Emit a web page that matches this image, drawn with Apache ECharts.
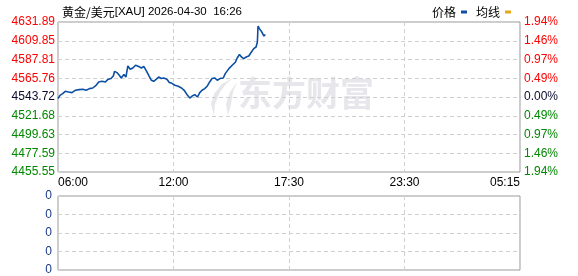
<!DOCTYPE html>
<html><head><meta charset="utf-8">
<script src="https://cdn.jsdelivr.net/npm/echarts@6/dist/echarts.min.js"></script>
<style>html,body{margin:0;padding:0;background:#fff}#c{width:578px;height:276px}</style>
</head><body><div id="c"></div>
<script>
const prevClose = 4543.72;
const priceTicks = ['4455.55','4477.59','4499.63','4521.68','4543.72','4565.76','4587.81','4609.85','4631.89'];
const pctTicks = ['1.94%','1.46%','0.97%','0.49%','0.00%','0.49%','0.97%','1.46%','1.94%'];
const timeTicks = ['06:00','12:00','17:30','23:30','05:15'];
const volTicks = ['0','0','0','0','0'];
const times = ['06:00','06:06','06:14','06:22','06:32','06:42','06:52','07:04','07:15','07:25','07:35','07:45','07:55','08:03','08:13','08:23','08:30','08:40','08:47','08:51','08:58','09:05','09:11','09:19','09:25','09:31','09:38','09:46','09:54','10:02','10:12','10:19','10:26','10:34','10:42','10:49','10:56','11:04','11:12','11:19','11:29','11:36','11:44','11:53','12:03','12:13','12:21','12:31','12:38','12:45','12:53','13:01','13:08','13:15','13:23','13:31','13:38','13:45','13:53','14:01','14:09','14:19','14:25','14:36','14:46','14:56','15:01','15:08','15:14','15:21','15:28','15:36','15:44','15:51','15:58','16:02','16:04','16:08','16:14','16:18','16:22','16:26'];
const prices = [4541.8,4545.7,4547.7,4550.4,4549.6,4548.9,4551.6,4552.4,4552.8,4551.6,4553.6,4554.3,4557.5,4561.4,4562.2,4561.4,4564.2,4565.4,4568.4,4573.9,4572.4,4569.2,4566.1,4570.1,4567.2,4580.2,4576.3,4577.8,4581.0,4579.8,4577.8,4579.8,4575.1,4569.2,4563.4,4562.2,4564.5,4567.2,4565.4,4566.1,4564.5,4560.7,4559.8,4557.5,4556.3,4554.3,4551.6,4545.7,4542.5,4544.9,4546.5,4543.7,4548.9,4551.6,4553.6,4556.7,4561.4,4565.4,4566.1,4563.4,4565.4,4566.1,4571.2,4577.1,4581.0,4584.9,4589.6,4593.6,4590.7,4588.9,4590.7,4591.9,4596.6,4600.6,4602.5,4608.4,4627.2,4624.1,4621.0,4619.4,4615.4,4617.1];

const pMin = parseFloat(priceTicks[0]), pMax = parseFloat(priceTicks[priceTicks.length-1]);
const step = (pMax - pMin) / 8;
const toMin = t => { const [h,m] = t.split(':').map(Number); let v = (h - 6) * 60 + m; if (v < 0) v += 1440; return v; };
const sessionLen = 1395;
const xStep = sessionLen / 4;
const lineData = times.map((t,i) => [toMin(t), prices[i] - prevClose]);

const labColor = i => i < 4 ? '#008800' : (i === 4 ? '#0a0a30' : '#ff0000');
const idxOf = v => Math.round(v / step) + 4;

const chart = echarts.init(document.getElementById('c'), null, {renderer:'canvas'});
const splitDash = {show:true, lineStyle:{color:'#d0d0d0', type:[4,3], width:1}};
chart.setOption({
  animation:false,
  textStyle:{fontFamily:'Liberation Sans, Arial, sans-serif'},
  title:{
    text:'{a|黄金/美元}{b|[XAU] 2026-04-30  16:26}', left:57, top:1,
    textStyle:{fontWeight:'normal', rich:{
      a:{fontFamily:'Noto Sans CJK SC', fontSize:12, color:'#000', fontWeight:'normal'},
      b:{fontFamily:'Liberation Sans', fontSize:11.5, color:'#000', fontWeight:'normal'}
    }}
  },
  legend:{
    right:62, top:1, align:'right', itemWidth:6, itemHeight:3, itemGap:9, icon:'rect',
    textStyle:{fontFamily:'Noto Sans CJK SC', fontSize:12, color:'#000'},
    data:['价格','均线']
  },
  graphic:[
    {type:'polygon', z:0, silent:true, shape:{points:[[233,78],[222,84],[214,94],[211,104],[214,116],[215,104],[220,92],[226,84]]}, style:{fill:'#e6e6eb'}},
    {type:'polygon', z:0, silent:true, shape:{points:[[237,82],[230,92],[226,104],[228,116],[231,104],[233,92]]}, style:{fill:'#e6e6eb'}},
    {type:'text', z:0, silent:true, left:238, top:76, style:{text:'东方财富', fontFamily:'Noto Sans CJK SC', fontWeight:'bold', fontSize:34, fill:'#e6e6eb'}}
  ],
  grid:[
    {left:58, right:58, top:22, height:150, show:true, borderColor:'#999', borderWidth:1, backgroundColor:'transparent'},
    {left:58, right:58, top:196, height:74, show:true, borderColor:'#999', borderWidth:1, backgroundColor:'transparent'}
  ],
  xAxis:[
    {type:'value', gridIndex:0, min:0, max:sessionLen, interval:xStep,
     axisLine:{show:false}, axisTick:{show:false}, splitLine:splitDash,
     axisLabel:{margin:5, fontSize:12, color:'#000', alignMinLabel:'left', alignMaxLabel:'right',
       formatter:v => timeTicks[Math.round(v / xStep)]}},
    {type:'value', gridIndex:1, min:0, max:sessionLen, interval:xStep,
     axisLine:{show:false}, axisTick:{show:false}, splitLine:splitDash, axisLabel:{show:false}}
  ],
  yAxis:[
    {type:'value', gridIndex:0, min:-4*step, max:4*step, interval:step, position:'left',
     axisLine:{show:false}, axisTick:{show:false}, splitLine:splitDash,
     axisLabel:{margin:3, fontSize:12, formatter:v => priceTicks[idxOf(v)], color:v => labColor(idxOf(v))}},
    {type:'value', gridIndex:0, min:-4*step, max:4*step, interval:step, position:'right',
     axisLine:{show:false}, axisTick:{show:false}, splitLine:{show:false},
     axisLabel:{margin:4, fontSize:12, formatter:v => pctTicks[idxOf(v)], color:v => labColor(idxOf(v))}},
    {type:'value', gridIndex:1, min:0, max:4, interval:1,
     axisLine:{show:false}, axisTick:{show:false}, splitLine:splitDash,
     axisLabel:{margin:6, fontSize:12, color:'#1a3a8a', formatter:v => volTicks[Math.round(v)]}}
  ],
  series:[
    {name:'价格', type:'line', xAxisIndex:0, yAxisIndex:0, data:lineData, showSymbol:false, z:5,
     lineStyle:{color:'#0d4fa3', width:1.6}, itemStyle:{color:'#0d4fa3'}},
    {name:'均线', type:'line', xAxisIndex:0, yAxisIndex:0, data:[], showSymbol:false,
     lineStyle:{color:'#e6a817', width:1}, itemStyle:{color:'#e6a817'}}
  ]
});
</script></body></html>
